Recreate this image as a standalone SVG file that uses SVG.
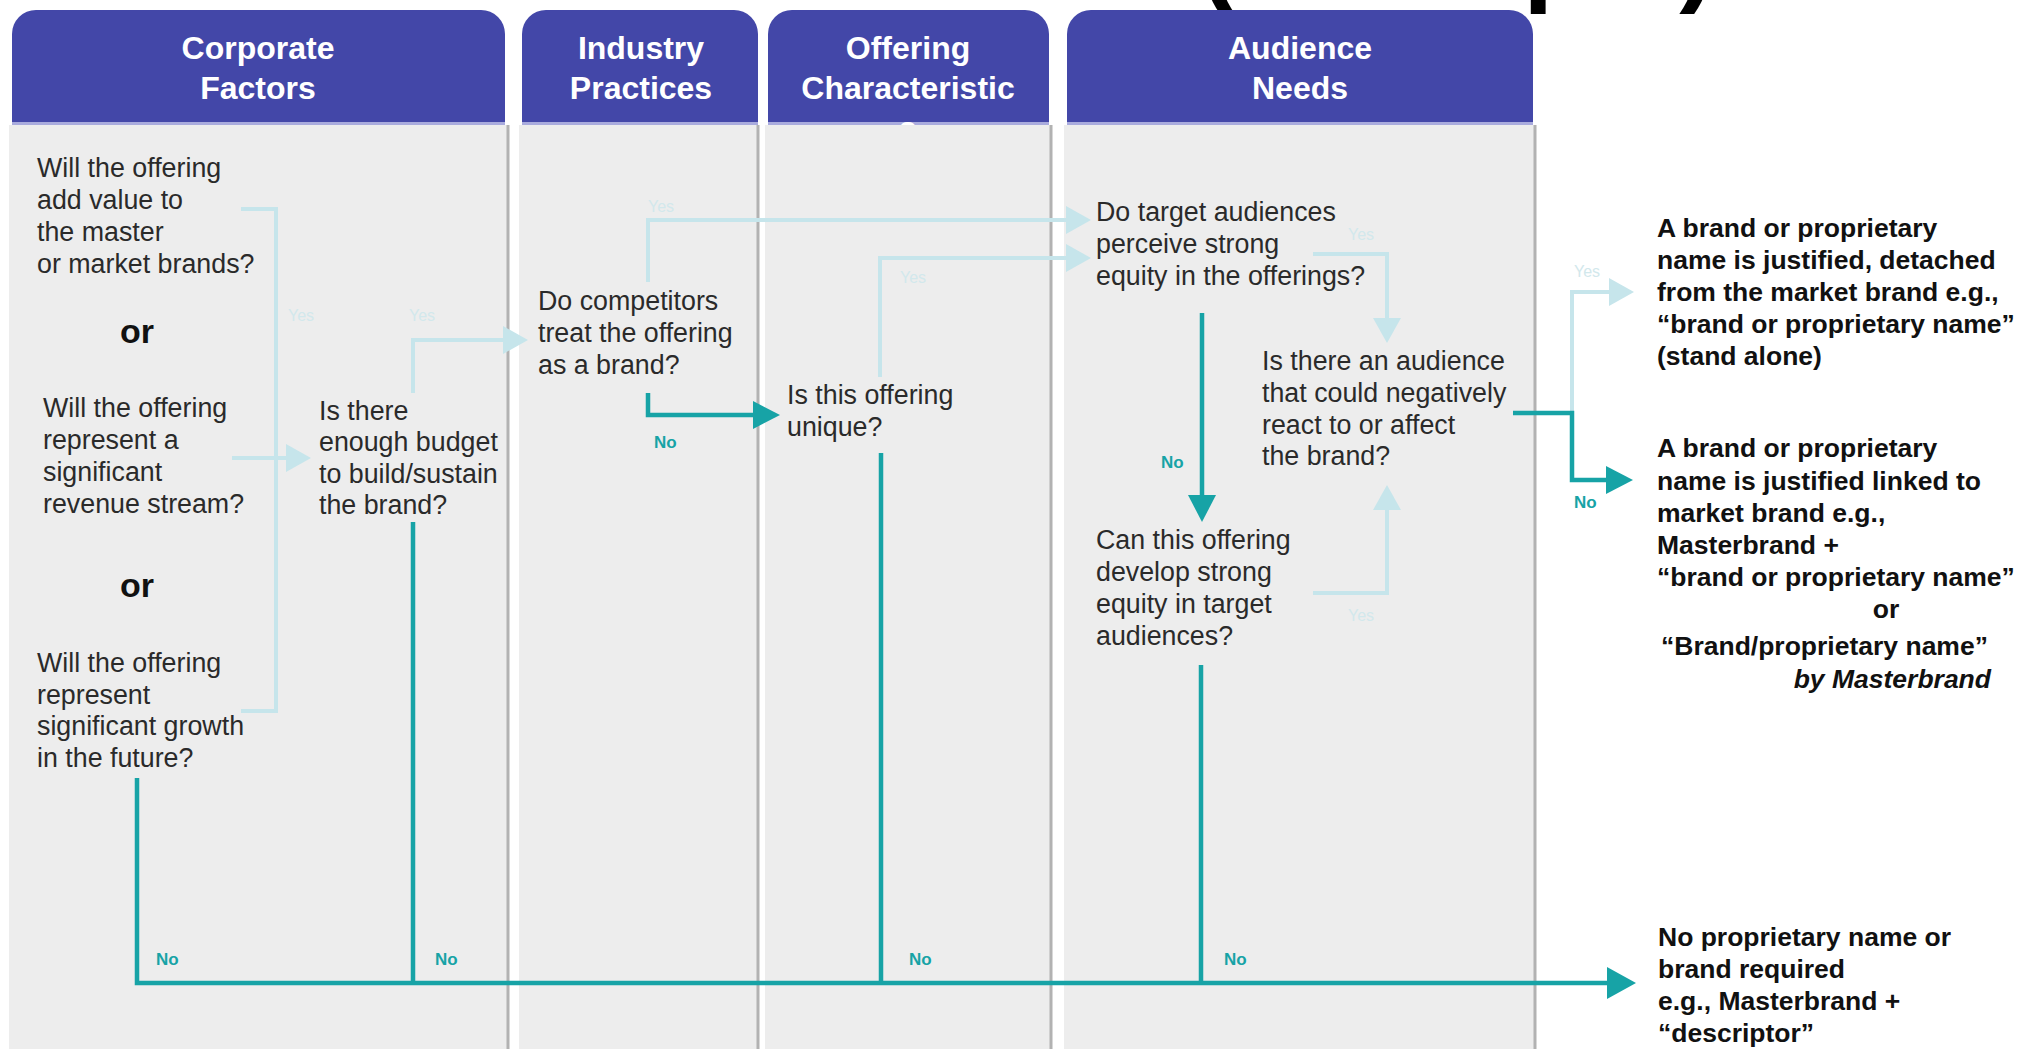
<svg xmlns="http://www.w3.org/2000/svg" width="2022" height="1049" viewBox="0 0 2022 1049">
<style>
  .hdr { fill: #4347A8; }
  .hdrline { fill: #A9ABDD; }
  .hdrtxt { font-family: "Liberation Sans", Arial, sans-serif; font-weight: bold; font-size: 32px; fill: #FFFFFF; text-anchor: middle; }
  .body { fill: #EDEDED; }
  .border { stroke: #B2B2B2; stroke-width: 3; }
  .q { font-family: "Liberation Sans", Arial, sans-serif; font-size: 26.8px; fill: #2A2A2A; }
  .or { font-family: "Liberation Sans", Arial, sans-serif; font-size: 34px; font-weight: bold; fill: #111111; text-anchor: middle; }
  .out { font-family: "Liberation Sans", Arial, sans-serif; font-size: 26.5px; font-weight: bold; fill: #111111; }
  .teal { fill: none; stroke: #17A3A6; stroke-width: 4.5; }
  .lb { fill: none; stroke: #C6E5EB; stroke-width: 4; }
  .no { font-family: "Liberation Sans", Arial, sans-serif; font-size: 17px; font-weight: bold; fill: #17A3A6; }
  .yes { font-family: "Liberation Sans", Arial, sans-serif; font-size: 16px; fill: #D2E8EC; }
  .title { font-family: "Liberation Sans", Arial, sans-serif; font-size: 108px; font-weight: bold; fill: #000000; }
</style>
<defs>
  <marker id="ah-teal" markerUnits="userSpaceOnUse" markerWidth="27" markerHeight="28" viewBox="0 0 27 28" refX="0" refY="14" orient="auto">
    <path d="M0,0 L27,14 L0,28 Z" fill="#17A3A6"/>
  </marker>
  <marker id="ah-teal-big" markerUnits="userSpaceOnUse" markerWidth="29" markerHeight="32" viewBox="0 0 29 32" refX="0" refY="16" orient="auto">
    <path d="M0,0 L29,16 L0,32 Z" fill="#17A3A6"/>
  </marker>
  <marker id="ah-lb" markerUnits="userSpaceOnUse" markerWidth="25" markerHeight="28" viewBox="0 0 25 28" refX="0" refY="14" orient="auto">
    <path d="M0,0 L25,14 L0,28 Z" fill="#C6E5EB"/>
  </marker>
</defs>

<rect x="0" y="0" width="2022" height="1049" fill="#FFFFFF"/>

<text class="title" x="1199" y="-8">(Example)</text>

<g id="col-corporate">
  <path class="hdr" d="M12,125 V34 A24,24 0 0 1 36,10 H481 A24,24 0 0 1 505,34 V125 Z"/>
  <rect class="hdrline" x="12" y="122" width="493" height="3"/>
  <text class="hdrtxt" x="258" y="59">Corporate</text>
  <text class="hdrtxt" x="258" y="99">Factors</text>
  <rect class="body" x="9" y="125" width="499" height="924"/>
  <line class="border" x1="508" y1="125" x2="508" y2="1049"/>
</g>
<g id="col-industry">
  <path class="hdr" d="M522,125 V34 A24,24 0 0 1 546,10 H734 A24,24 0 0 1 758,34 V125 Z"/>
  <rect class="hdrline" x="522" y="122" width="236" height="3"/>
  <text class="hdrtxt" x="641" y="59">Industry</text>
  <text class="hdrtxt" x="641" y="99">Practices</text>
  <rect class="body" x="519" y="125" width="240" height="924"/>
  <line class="border" x1="758" y1="125" x2="758" y2="1049"/>
</g>
<g id="col-offering">
  <path class="hdr" d="M768,125 V34 A24,24 0 0 1 792,10 H1025 A24,24 0 0 1 1049,34 V125 Z"/>
  <rect class="hdrline" x="768" y="122" width="281" height="3"/>
  <text class="hdrtxt" x="908" y="59">Offering</text>
  <text class="hdrtxt" x="908" y="99">Characteristic</text>
  <text class="hdrtxt" x="908" y="139">s</text>
  <rect class="body" x="765" y="125" width="287" height="924"/>
  <line class="border" x1="1051" y1="125" x2="1051" y2="1049"/>
</g>
<g id="col-audience">
  <path class="hdr" d="M1067,125 V34 A24,24 0 0 1 1091,10 H1509 A24,24 0 0 1 1533,34 V125 Z"/>
  <rect class="hdrline" x="1067" y="122" width="466" height="3"/>
  <text class="hdrtxt" x="1300" y="59">Audience</text>
  <text class="hdrtxt" x="1300" y="99">Needs</text>
  <rect class="body" x="1064" y="125" width="472" height="924"/>
  <line class="border" x1="1535" y1="125" x2="1535" y2="1049"/>
</g>

<g id="connectors">
  <path class="lb" d="M241,209 H276 V711 H241"/>
  <path class="lb" d="M232,458 H286" marker-end="url(#ah-lb)"/>
  <path class="lb" d="M413,393 V340 H503" marker-end="url(#ah-lb)"/>
  <path class="lb" d="M648,282 V220 H1066" marker-end="url(#ah-lb)"/>
  <path class="lb" d="M880,377 V258 H1066" marker-end="url(#ah-lb)"/>
  <path class="lb" d="M1313,254 H1387 V318" marker-end="url(#ah-lb)"/>
  <path class="lb" d="M1313,593 H1387 V510" marker-end="url(#ah-lb)"/>
  <path class="lb" d="M1572,413 V292 H1609" marker-end="url(#ah-lb)"/>

  <path class="teal" d="M137,778 V983 H1607" marker-end="url(#ah-teal-big)"/>
  <path class="teal" d="M413,522 V983"/>
  <path class="teal" d="M881,453 V983"/>
  <path class="teal" d="M1201,665 V983"/>
  <path class="teal" d="M648,393 V415 H753" marker-end="url(#ah-teal)"/>
  <path class="teal" d="M1202,313 V495" marker-end="url(#ah-teal)"/>
  <path class="teal" d="M1513,413 H1572 V480 H1606" marker-end="url(#ah-teal)"/>

  <text class="yes" x="288" y="321">Yes</text>
  <text class="yes" x="409" y="321">Yes</text>
  <text class="yes" x="648" y="212">Yes</text>
  <text class="yes" x="900" y="283">Yes</text>
  <text class="yes" x="1348" y="240">Yes</text>
  <text class="yes" x="1348" y="621">Yes</text>
  <text class="yes" x="1574" y="277">Yes</text>

  <text class="no" x="156" y="965">No</text>
  <text class="no" x="435" y="965">No</text>
  <text class="no" x="909" y="965">No</text>
  <text class="no" x="1224" y="965">No</text>
  <text class="no" x="654" y="448">No</text>
  <text class="no" x="1161" y="468">No</text>
  <text class="no" x="1574" y="508">No</text>
</g>

<g id="q-add-value">
  <text class="q" x="37" y="177">Will the offering</text>
  <text class="q" x="37" y="209">add value to</text>
  <text class="q" x="37" y="241">the master</text>
  <text class="q" x="37" y="273">or market brands?</text>
</g>
<g id="or-1"><text class="or" x="137" y="343">or</text></g>
<g id="q-revenue">
  <text class="q" x="43" y="417">Will the offering</text>
  <text class="q" x="43" y="449">represent a</text>
  <text class="q" x="43" y="481">significant</text>
  <text class="q" x="43" y="513">revenue stream?</text>
</g>
<g id="or-2"><text class="or" x="137" y="597">or</text></g>
<g id="q-growth">
  <text class="q" x="37" y="672">Will the offering</text>
  <text class="q" x="37" y="704">represent</text>
  <text class="q" x="37" y="735">significant growth</text>
  <text class="q" x="37" y="767">in the future?</text>
</g>
<g id="q-budget">
  <text class="q" x="319" y="420">Is there</text>
  <text class="q" x="319" y="451">enough budget</text>
  <text class="q" x="319" y="483">to build/sustain</text>
  <text class="q" x="319" y="514">the brand?</text>
</g>
<g id="q-competitors">
  <text class="q" x="538" y="310">Do competitors</text>
  <text class="q" x="538" y="342">treat the offering</text>
  <text class="q" x="538" y="374">as a brand?</text>
</g>
<g id="q-unique">
  <text class="q" x="787" y="404">Is this offering</text>
  <text class="q" x="787" y="436">unique?</text>
</g>
<g id="q-perceive">
  <text class="q" x="1096" y="221">Do target audiences</text>
  <text class="q" x="1096" y="253">perceive strong</text>
  <text class="q" x="1096" y="285">equity in the offerings?</text>
</g>
<g id="q-negative">
  <text class="q" x="1262" y="370">Is there an audience</text>
  <text class="q" x="1262" y="402">that could negatively</text>
  <text class="q" x="1262" y="434">react to or affect</text>
  <text class="q" x="1262" y="465">the brand?</text>
</g>
<g id="q-develop">
  <text class="q" x="1096" y="549">Can this offering</text>
  <text class="q" x="1096" y="581">develop strong</text>
  <text class="q" x="1096" y="613">equity in target</text>
  <text class="q" x="1096" y="645">audiences?</text>
</g>

<g id="out-detached">
  <text class="out" x="1657" y="237">A brand or proprietary</text>
  <text class="out" x="1657" y="269">name is justified, detached</text>
  <text class="out" x="1657" y="301">from the market brand e.g.,</text>
  <text class="out" x="1657" y="333">“brand or proprietary name”</text>
  <text class="out" x="1657" y="365">(stand alone)</text>
</g>
<g id="out-linked">
  <text class="out" x="1657" y="457">A brand or proprietary</text>
  <text class="out" x="1657" y="490">name is justified linked to</text>
  <text class="out" x="1657" y="522">market brand e.g.,</text>
  <text class="out" x="1657" y="554">Masterbrand +</text>
  <text class="out" x="1657" y="586">“brand or proprietary name”</text>
  <text class="out" x="1886" y="618" text-anchor="middle">or</text>
  <text class="out" x="1661" y="655">“Brand/proprietary name”</text>
  <text class="out" x="1991" y="688" text-anchor="end" font-style="italic">by Masterbrand</text>
</g>
<g id="out-none">
  <text class="out" x="1658" y="946">No proprietary name or</text>
  <text class="out" x="1658" y="978">brand required</text>
  <text class="out" x="1658" y="1010">e.g., Masterbrand +</text>
  <text class="out" x="1658" y="1042">“descriptor”</text>
</g>
</svg>
